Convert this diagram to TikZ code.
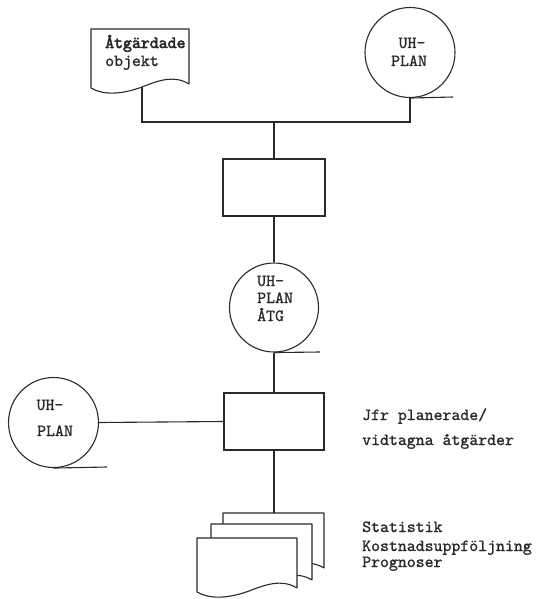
\documentclass[tikz,border=0pt]{standalone}
\usepackage{fontspec}
\setmonofont{lmmono10-regular.otf}[FakeBold=1.2]
\newfontfamily\ttheavy{lmmono10-regular.otf}[FakeBold=3]
\definecolor{ink}{HTML}{2A2A2A}
\tikzset{
  line/.style={draw=ink, line width=1.1pt},
  procbox/.style={rectangle, draw=ink, line width=1.1pt, minimum width=102pt, minimum height=57pt, inner sep=0pt},
  diskcirc/.style={circle, draw=ink, line width=1.1pt, minimum size=89pt, inner sep=0pt},
  tt/.style={font=\fontsize{17}{19}\selectfont\ttfamily, text=ink, inner sep=0pt, anchor=base west},
  page/.style={draw=ink, line width=1.1pt, fill=white, line join=round},
}
% document symbol: top-left corner (#1,#2), width #3, left-side height #4
\newcommand\docpage[4]{%
  \draw[page] (#1,#2) -- ({#1+#3},#2) -- ({#1+#3},{#2+#4-4})
    .. controls ({#1+0.85*#3},{#2+#4-13}) and ({#1+0.7*#3},{#2+#4-8}) .. ({#1+0.52*#3},{#2+#4-1})
    .. controls ({#1+0.3*#3},{#2+#4+7}) and ({#1+0.12*#3},{#2+#4+7}) .. (#1,{#2+#4}) -- cycle;}
\begin{document}
\begin{tikzpicture}[x=1pt, y=-1pt]
\useasboundingbox (0,0) rectangle (541,599);

% input document and plan store
\docpage{91}{29}{98}{59}
\node[tt, font=\fontsize{17}{19}\selectfont\ttheavy] (objtext1) at (105,48) {Åtgärdade};
\node[tt] (objtext2) at (105,66) {objekt};
\coordinate (docfoot) at (142,87);

\node[diskcirc, minimum size=90pt] (plantop) at (410,52.5) {};
\node[tt, anchor=base] (plantop1) at (412,48) {UH-};
\node[tt, anchor=base] (plantop2) at (409,66) {PLAN};
\coordinate (plantoptail) at (453,97);
\draw[line] (plantop.south) -- (plantoptail);

\coordinate (bus) at (274,122);
\draw[line] (docfoot) |- (bus) -| (plantop.south);

% first process
\node[procbox] (proc1) at (274,187.5) {};
\draw[line] (bus) -- (proc1.north);

% planned measures store
\node[diskcirc] (planatg) at (274,307.5) {};
\node[tt] (planatg1) at (257,286) {UH-};
\node[tt] (planatg2) at (257,303) {PLAN};
\node[tt] (planatg3) at (257,321) {ÅTG};
\coordinate (planatgtail) at (320,352);
\draw[line] (planatg.south) -- (planatgtail);
\draw[line] (proc1.south) -- (planatg.north);

% comparison process
\node[procbox, minimum width=100pt] (proc2) at (274,421.5) {};
\draw[line] (planatg.south) -- (proc2.north);
\node[tt] (cmp1) at (362,420) {Jfr planerade/};
\node[tt] (cmp2) at (362,445) {vidtagna åtgärder};

\node[diskcirc, minimum size=90pt] (planleft) at (53.5,422.5) {};
\node[tt, anchor=base] (planleft1) at (50,410) {UH-};
\node[tt, anchor=base] (planleft2) at (55,436) {PLAN};
\coordinate (planlefttail) at (107,467);
\draw[line] (planleft.south) -- (planlefttail);
\draw[line] (planleft.east) -- (proc2.west);

% output reports
\coordinate (reporttop) at (274,513);
\draw[line] (proc2.south) -- (reporttop);
\docpage{223}{513}{101}{59}
\docpage{211}{524}{101}{60}
\docpage{197}{538}{100}{54}
\node[tt] (rep1) at (362,532) {Statistik};
\node[tt] (rep2) at (362,551) {Kostnadsuppföljning};
\node[tt] (rep3) at (362,567) {Prognoser};
\end{tikzpicture}
\end{document}
